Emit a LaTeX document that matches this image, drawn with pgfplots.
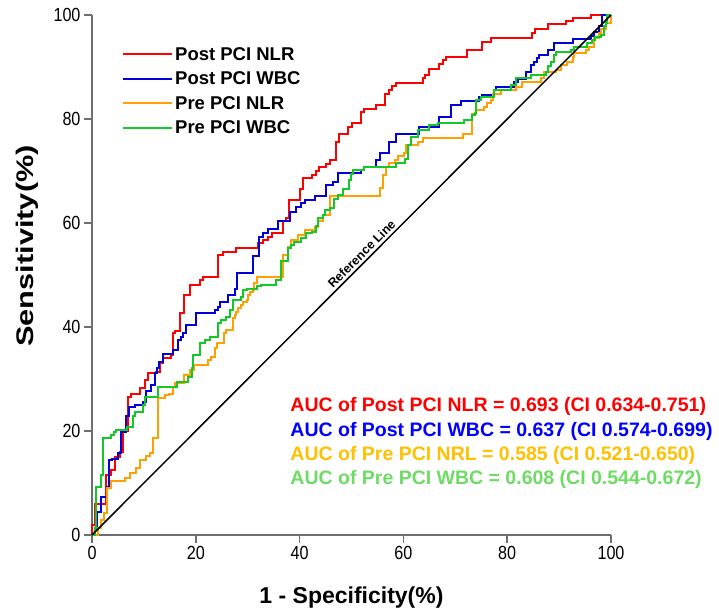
\documentclass[border=0pt]{standalone}
\usepackage{fontspec}
\setmainfont{Liberation Sans}
\newfontfamily\narrowsans{Liberation Sans}[FakeStretch=0.85]
\newfontfamily\widesans{Liberation Sans}[FakeStretch=1.28]
\usepackage{pgfplots}
\pgfplotsset{compat=1.18}

\definecolor{rocred}{RGB}{255,0,0}
\definecolor{rocblue}{RGB}{0,0,215}
\definecolor{rocorange}{RGB}{255,160,0}
\definecolor{rocgreen}{RGB}{20,200,40}
\definecolor{txtblue}{RGB}{0,0,255}
\definecolor{txtorange}{RGB}{255,192,0}
\definecolor{txtgreen}{RGB}{110,220,100}
\definecolor{axgray}{RGB}{110,110,110}

% ROC points: (1 - specificity, sensitivity) at each upward step
\pgfplotstableread{
x y
0 0
0 2
0.6 6
2.7 11.5
3.7 12.5
4.4 15
5.4 16
6 20
7 26.6
7.6 27.2
9.2 28.3
10.2 29.8
10.8 31.1
12.4 31.4
13.1 33
13.7 34
15.3 34.6
15.6 38.8
16 39.2
16.9 42.6
17.7 46.2
18.8 48.1
20.8 49
21.4 49.7
24.3 53.8
25.3 54.5
27.8 55.1
32 56.1
32.9 56.7
33.9 57.3
34.6 58
36.8 60.3
37.4 60.9
37.9 64.4
40 66.5
40.6 68.6
42.3 69.2
43.1 70
43.8 70.7
45.1 71.3
45.8 72.1
47.1 75.6
47.6 77.1
49.3 78.5
50.1 79.3
51.9 81.4
52.5 82
54.8 82.7
56.5 84.9
57.2 85.6
57.8 86.3
58.5 87
63.7 87.8
64.2 88.5
65 89.7
66.9 90.6
67.6 91.3
68.2 92
72.2 93.3
75.1 94.9
76.9 95.5
84.8 96.5
85.4 97.4
87.8 98.3
91.3 98.9
92.6 99.4
96.1 100
100 100
}\postnlr

\pgfplotstableread{
x y
0 0
0.5 1
1 4.5
1.7 7.4
2.8 9.3
3.2 14.4
3.8 14.7
5 15.7
5.6 19.9
6.6 22.8
7.2 24.7
8.2 25
9.8 25.6
10.4 27.6
11.3 28.8
12.1 31.1
12.6 32.1
12.9 33.3
13.7 34.9
15.6 35.6
16.6 37.5
17.1 38.1
17.6 38.8
18.2 40.4
20.1 42.6
23.7 43.3
24.3 43.9
24.6 44.9
26.2 46.2
27.5 47.4
27.9 50.3
31 53.7
32.2 57.4
32.9 58.1
33.9 58.8
35.8 60.3
38.1 62.2
39.4 63.1
40.3 63.8
41 64.4
42.9 65.1
45.1 67.3
46.4 67.9
47.4 69.6
51.9 70.2
52.5 70.8
54.8 72.1
55.4 73.4
57.2 75.6
58.5 77.1
63.1 78.4
66.9 80.4
69.2 82.7
71.1 83.5
74.6 84.3
75.1 84.7
77.5 85.6
77.8 86.2
81.3 87.2
82 87.6
83.6 89.1
84.6 90.4
85.2 91
85.8 91.7
86.2 92.3
87.8 93.3
89 94.6
92.6 95.3
96.1 96
96.7 96.8
97.6 97.8
98.3 100
100 100
}\postwbc

\pgfplotstableread{
x y
0 0
1.2 1.3
1.8 2.9
2.4 4.2
2.8 9
3.6 10.3
6.3 10.9
7.4 11.9
8.5 12.8
9.2 14.4
10.4 15.1
11.1 15.7
11.7 18.6
12.8 26.3
14 26.9
14.9 27.2
15.6 28.5
16 29.2
17.7 30.8
18.8 31.7
19.6 32.7
22.4 33.7
23 34.3
23.7 35.9
24.1 36.9
25.4 38.8
25.9 39.4
27.2 41.7
27.5 42.3
27.8 42.9
28.1 43.6
28.8 44.2
29.1 44.9
29.8 45.2
30.1 46.2
30.4 46.8
31 47.1
31.3 48.4
31.7 49.7
36.8 53.8
37.8 55.4
38.4 56.7
39.7 57.7
41 58.7
42.9 59.3
43.5 60.3
44.5 61.5
45.8 65.1
55.5 66.7
56 69.2
56.7 70.8
57.2 71.5
58.3 72.1
58.9 72.9
60.2 73.4
60.5 75
62.8 75.6
63.7 76.3
71.4 77.1
73.3 81
74 81.7
75.6 82.4
76.2 83
76.9 83.7
77.2 84.9
78.8 85.6
81.7 86.2
82.9 87.2
86.5 87.8
87.1 89.1
89.4 89.4
90.3 90.4
91.6 91
92.6 92
92.9 92.6
95.1 93.3
95.8 93.9
96.7 95.5
97.7 96.5
98 97.4
99 98.4
100 100
}\prenlr

\pgfplotstableread{
x y
0 0
0.5 1.3
0.8 9.3
1.7 11.5
2.1 18.6
3.7 19.2
4.2 19.9
4.7 20.2
6.7 20.8
7.9 22.8
8.3 23.7
9.9 25
10.2 26.6
12.8 28.5
16.3 29.5
18.5 30.4
19.2 32.1
19.5 34.6
20.8 36.9
21.7 37.5
22.7 38.1
24.3 40.7
24.9 41.3
25.9 42
26.5 43.3
27.2 45.2
28.8 45.8
29.1 47.1
29.8 47.4
31.7 47.8
32.6 48.1
35.5 49
36.5 52.6
37.8 55.1
38.4 55.8
39 56.4
40.3 57.1
41.3 58
42.3 58.3
43.2 59.4
43.5 60.9
44.5 61.5
44.8 62.5
45.8 62.8
46.7 64.7
47.4 65.4
48.3 66.5
49.6 68.3
49.9 69.4
50.3 70.2
52.5 70.8
58.5 71.5
60.4 72.4
60.8 75
61.5 76.6
62.8 77.9
65 78.8
66.6 79.2
71.7 79.8
73.3 80.8
73.8 81.1
74 83.7
74.9 84.3
77.5 85.6
80.7 86.5
81.7 87.8
84.6 88.5
87.4 89.1
87.8 90.1
88.4 91
89 92.3
89.4 92.8
92.3 93.3
92.9 93.9
95.4 94.6
96.4 95.2
97 95.8
98 96.2
98.7 97.8
99 98.4
99.3 100
100 100
}\prewbc

\begin{document}
\begin{tikzpicture}
\path[use as bounding box] (0pt,0pt) rectangle (719pt,609pt);
\begin{axis}[
    at={(92pt,74pt)}, anchor=south west,
    scale only axis, width=519pt, height=520pt,
    xmin=0, xmax=100, ymin=0, ymax=100,
    axis lines=left,
    axis line style={-, line width=1.5pt, axgray},
    xtick={0,20,...,100}, ytick={0,20,...,100},
    tick style={line width=1.5pt, axgray},
    tick align=outside, major tick length=8pt,
    tick label style={font=\fontsize{19}{19}\selectfont\narrowsans},
    /pgf/number format/assume math mode=true,
    clip=false,
    legend cell align=left,
    legend style={draw=none, fill=none, at={(axis cs:5.2,94.6)}, anchor=north west,
      font=\bfseries\fontsize{18.5}{18.5}\selectfont, row sep=6pt},
    legend image code/.code={\draw[#1, line width=2pt] (0pt,0pt) -- (41pt,0pt);
      \path (0pt,0pt) -- (49pt,0pt);},
  ]
  \addplot[const plot, rocred, line width=2pt] table {\postnlr};
  \addlegendentry{Post PCI NLR}
  \addplot[const plot, rocblue, line width=2pt] table {\postwbc};
  \addlegendentry{Post PCI WBC}
  \addplot[const plot, rocorange, line width=2pt] table {\prenlr};
  \addlegendentry{Pre PCI NLR}
  \addplot[const plot, rocgreen, line width=2pt] table {\prewbc};
  \addlegendentry{Pre PCI WBC}
  \addplot[black, line width=1.5pt, forget plot] coordinates {(0,0) (100,100)}
    node[pos=0.53, sloped, above, inner sep=2.5pt, font=\bfseries\fontsize{12.5}{12.5}\selectfont] {Reference Line};

  \begin{scope}[every node/.style={anchor=west, inner sep=0pt, font=\bfseries\fontsize{19.5}{19.5}\selectfont}]
    \node[text=rocred] at (axis cs:38.2,24.8) {AUC of Post PCI NLR = 0.693 (CI 0.634-0.751)};
    \node[text=txtblue] at (axis cs:38.2,20.0) {AUC of Post PCI WBC = 0.637 (CI 0.574-0.699)};
    \node[text=txtorange] at (axis cs:38.2,15.2) {AUC of Pre PCI NRL = 0.585 (CI 0.521-0.650)};
    \node[text=txtgreen] at (axis cs:38.2,10.6) {AUC of Pre PCI WBC = 0.608 (CI 0.544-0.672)};
  \end{scope}

  \node[font=\bfseries\fontsize{23}{23}\selectfont] at (axis cs:50,-12) {1 - Specificity(\%)};
  \node[rotate=90, font=\bfseries\fontsize{24}{24}\selectfont\widesans] at (axis cs:-12.5,55.6) {Sensitivity(\%)};
\end{axis}
\end{tikzpicture}
\end{document}
